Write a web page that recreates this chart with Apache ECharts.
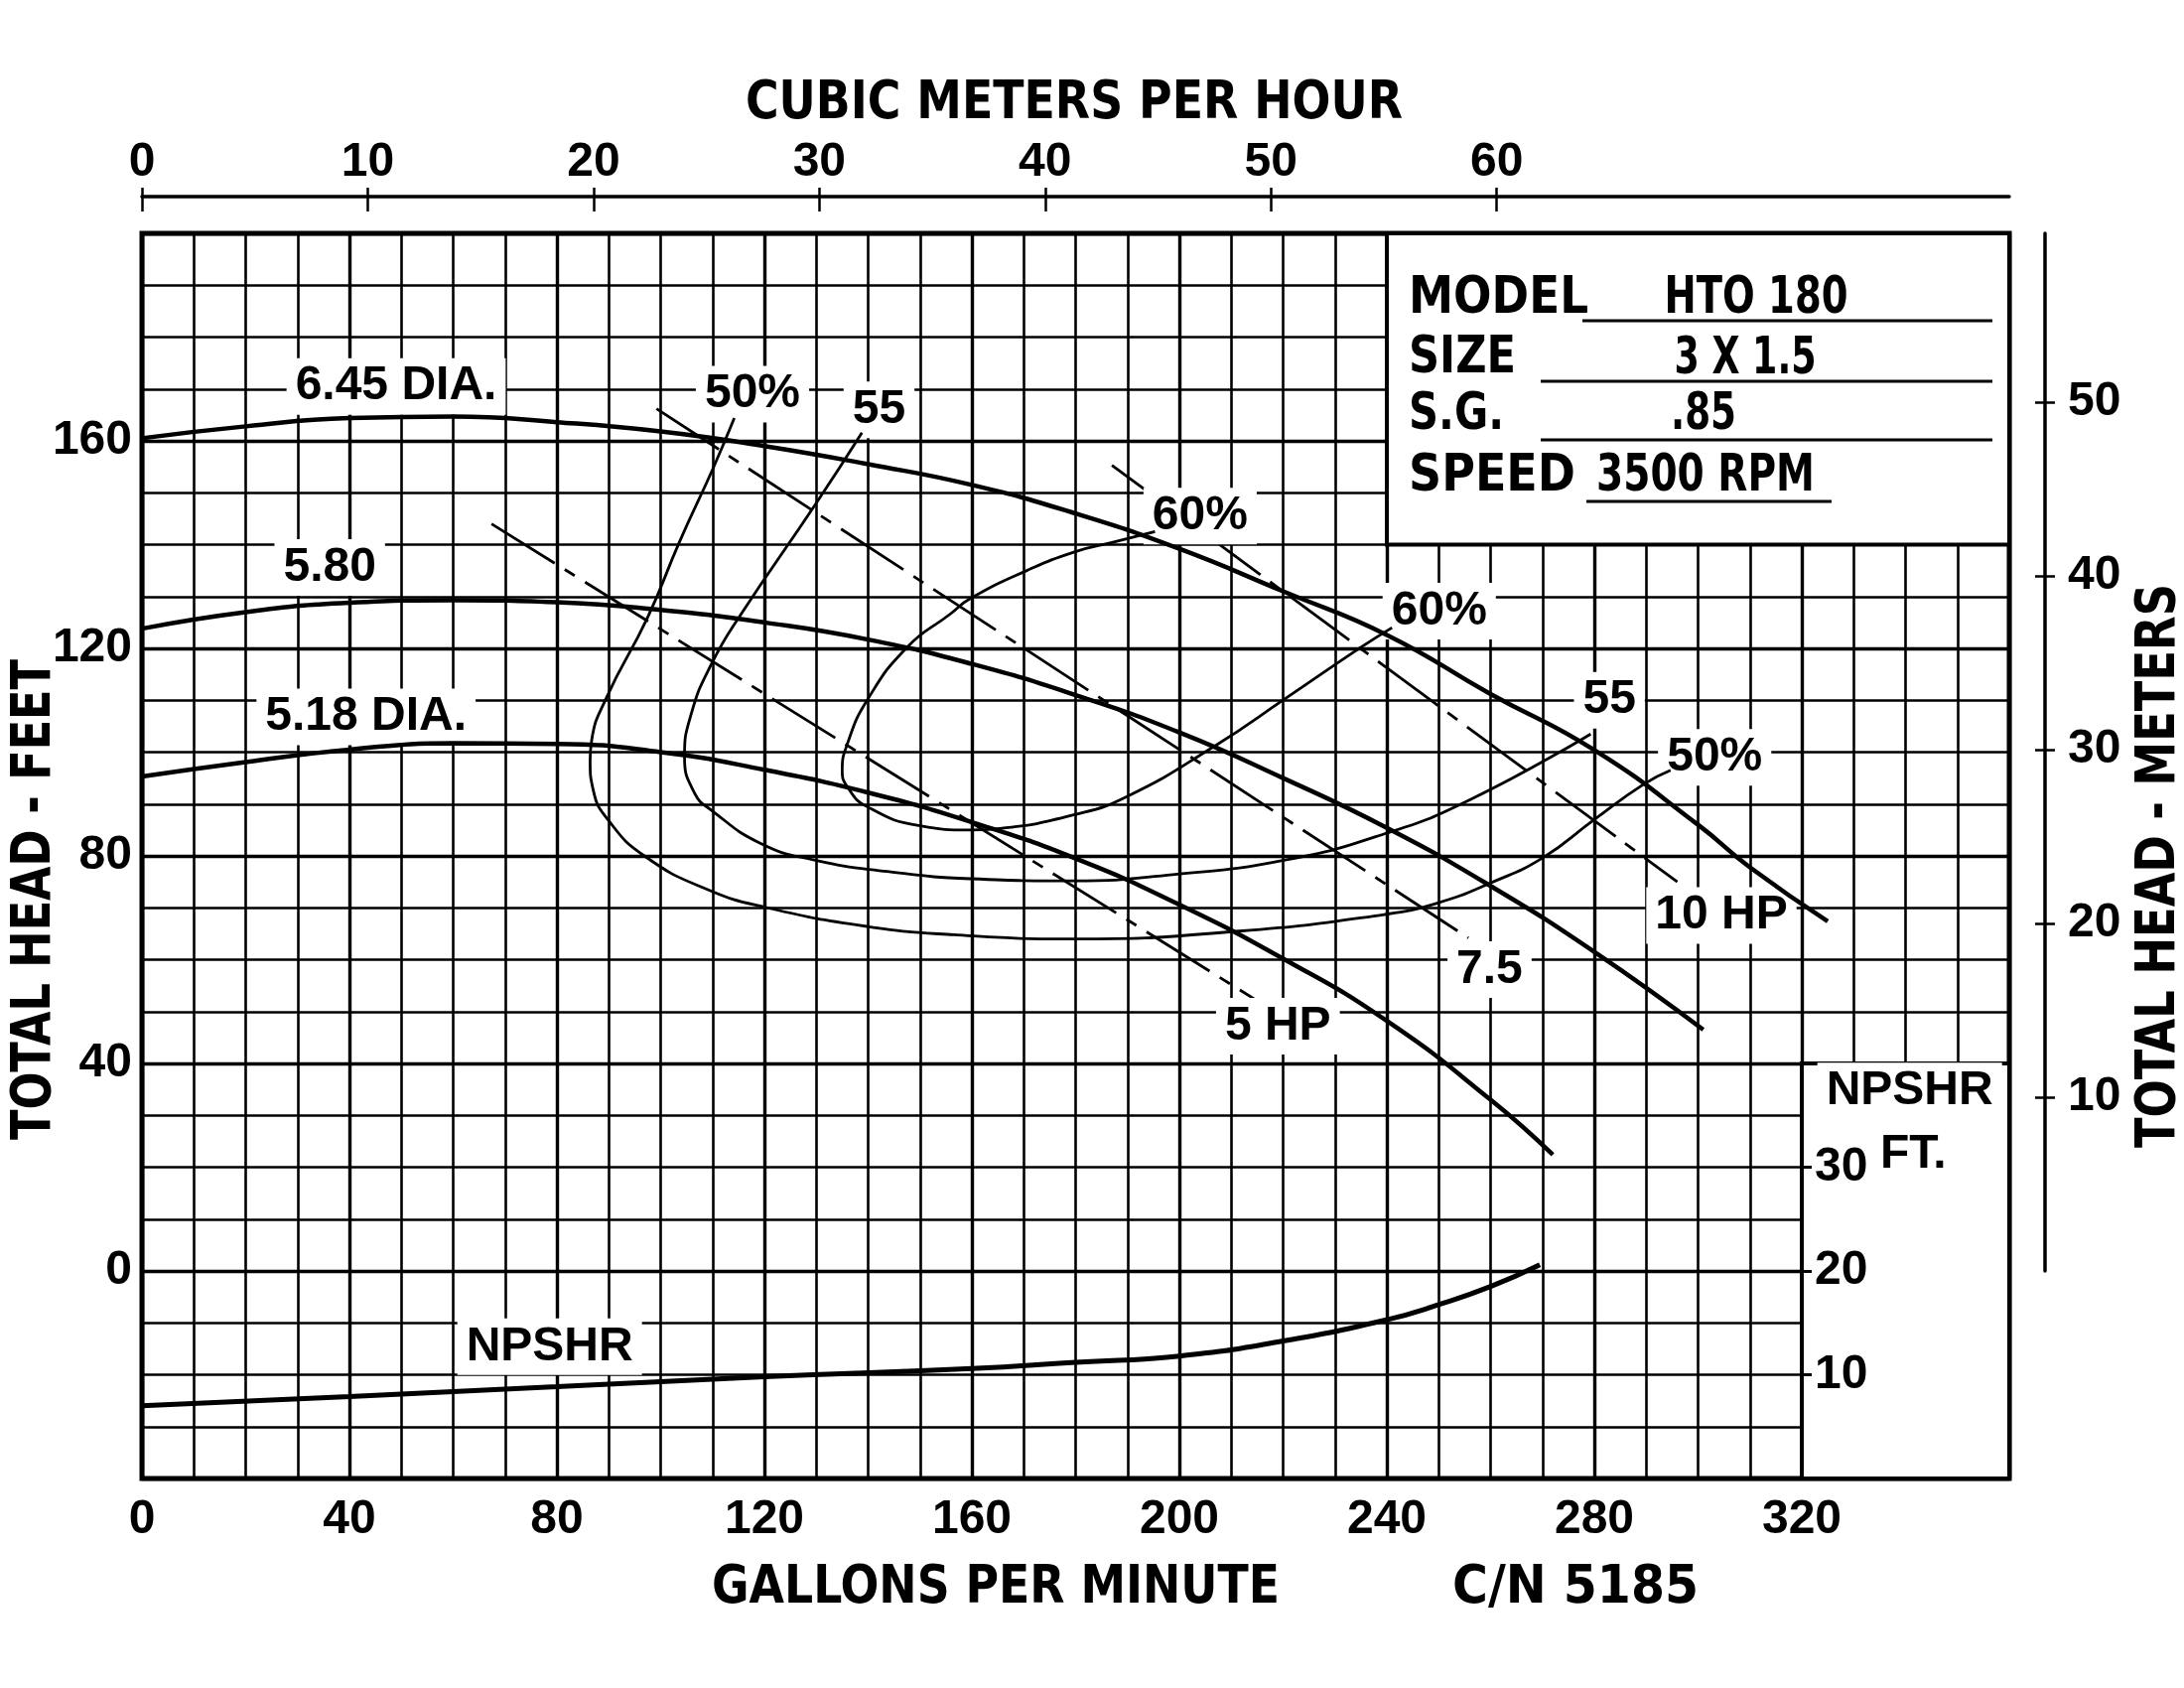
<!DOCTYPE html>
<html><head><meta charset="utf-8">
<script src="https://cdn.jsdelivr.net/npm/echarts@6/dist/echarts.min.js"></script>
<style>html,body{margin:0;padding:0;background:#fff}#c{width:2200px;height:1700px}</style>
</head><body><div id="c"></div>
<script>
// ---------- DATA ----------
const gpmTicks = [0, 40, 80, 120, 160, 200, 240, 280, 320];
const headTicks = [0, 40, 80, 120, 160];
const m3hTicks = [0, 10, 20, 30, 40, 50, 60];
const meterTicks = [10, 20, 30, 40, 50];
const npshrTicks = [10, 20, 30];

// head curves [gpm, ft]
const dia645 = [[0,160.5],[20,162.8],[40,164.4],[60,164.7],[80,163.6],[100,161.8],[120,159],[140,155.5],[160,151.5],[180,146],[200,139.2],[220,131],[240,122.6],[260,111.2],[280,100.4],[300,86],[310,77.8],[325,67.4]];
const dia580 = [[0,123.8],[20,127],[40,128.8],[60,129.3],[80,128.9],[100,127.4],[120,125],[140,121.7],[160,117],[180,111],[200,103.8],[220,95],[240,85.4],[260,74.2],[280,61.5],[301,46.5]];
const dia518 = [[0,95.3],[20,98.1],[40,100.5],[60,101.7],[80,101.6],[100,100],[120,96.6],[140,92.2],[160,86.5],[180,79.5],[200,70.6],[220,60.2],[240,48.2],[260,33],[272,22.4]];

// efficiency curves [gpm, ft]
const eff50 = [[114.2,164.4],[110.1,154.7],[103.7,140.7],[97.5,126],[89.6,110.6],[86.7,102.3],[86.4,98.4],[87,92.7],[89.9,86.9],[97,79.9],[109.1,73.5],[120.6,70],[139.8,66.4],[156.5,64.8],[179.5,64],[211.5,65.5],[239.5,68.7],[249.7,70.9],[260,74.8],[270,79.6],[280,87],[289.5,93.8],[294.7,96.5]];
const eff55 = [[138.8,161.6],[129.8,147.7],[115.5,126.6],[109.8,117],[105.9,107.4],[104.6,99.1],[106.6,92],[109.8,88.8],[119.3,82.4],[129.6,79.2],[143.7,77],[159.7,75.6],[179.6,75.2],[198.7,76.4],[220.4,79.2],[240,84.4],[256,90.8],[279.3,103.5]];
const eff60 = [[195.3,142.5],[187,140.4],[179.8,138.6],[170.6,135],[159.7,129.6],[155.8,126.6],[147.5,120.2],[139.8,110],[136,101.6],[135,96.5],[136,93.3],[139.8,89.5],[150,85.8],[159.7,85],[165.4,85.3],[179.6,87.9],[189.8,91.4],[207,101.3],[220.4,110.3],[235,120.2],[241,124]];

// horsepower lines [gpm, ft]
const hp5 = [[67.4,144],[215.3,51.9]];
const hp75 = [[99.2,166.2],[255.7,64.2]];
const hp10 = [[187,155.3],[296,75]];

// NPSHR [gpm, ft NPSHR]
const npshr = [[0,7],[40,7.9],[80,8.85],[120,9.8],[160,10.6],[180,11.2],[200,11.8],[220,13.25],[240,15.3],[250,16.75],[260,18.5],[269.5,20.6]];

// curve labels [text, gpm, ft]
const curveLabels = [
  ['6.45 DIA.', 49, 170.5],
  ['5.80', 36.2, 135.6],
  ['5.18 DIA.', 43.2, 106.8],
  ['50%', 117.7, 169],
  ['55', 142.1, 166],
  ['60%', 204, 145.5],
  ['60%', 250.1, 127.2],
  ['55', 282.9, 110],
  ['50%', 303.2, 99],
  ['10 HP', 304.5, 68.5],
  ['7.5', 259.8, 58.1],
  ['5 HP', 219, 47.2],
  ['NPSHR', 78.6, -14.6],
  ['NPSHR', 340.8, 34.7],
  ['FT.', 341.5, 22.5]
];

const infoKeys = ['MODEL', 'SIZE', 'S.G.', 'SPEED'];
const infoValues = ['HTO 180', '3 X 1.5', '.85', '3500 RPM'];

// ---------- LAYOUT / STYLE ----------
const G = {left: 143, top: 235, width: 1881, height: 1254};
const X_MIN = 0, X_MAX = 360, Y_MIN = -40, Y_MAX = 200;
const GPM_PER_M3H = 4.353, FT_PER_M = 3.35;
const NUMFONT = '"Liberation Sans", Arial, sans-serif';
const TITLEFONT = '"DejaVu Sans Condensed","DejaVu Sans",sans-serif';
const FS = 48;
const numLabel = {color: '#000', fontFamily: NUMFONT, fontWeight: 'bold', fontSize: FS};
const hidden = {axisLine: {show: false, onZero: false}, axisTick: {show: false}, axisLabel: {show: false}};

const mctx = document.createElement('canvas').getContext('2d');
function fit(text, size, target) {
  mctx.font = 'bold ' + size + 'px ' + TITLEFONT;
  return target / mctx.measureText(text).width;
}
function titleText(text, x, y, size, target, rot, align) {
  const s = fit(text, size, target);
  return {type: 'text', x, y, rotation: rot || 0, scaleX: s, z: 100,
    style: {text, fontFamily: TITLEFONT, fontWeight: 'bold', fontSize: size, fill: '#000',
      align: align || 'center', verticalAlign: 'middle'}};
}

const chart = echarts.init(document.getElementById('c'), null, {renderer: 'canvas', width: 2200, height: 1700});

const lineSeries = (name, data, width, type, yIdx, z) => ({
  name, type: 'line', data, xAxisIndex: 0, yAxisIndex: yIdx || 0,
  showSymbol: false, symbol: 'none', smooth: 0.5, z: z || 5, silent: true,
  lineStyle: {color: '#000', width, type: type || 'solid', cap: 'butt'}
});
const dash = [75, 12, 12, 12];

const option = {
  animation: false,
  backgroundColor: '#fff',
  grid: [
    {left: G.left, top: G.top, width: G.width, height: G.height, show: true, borderColor: '#000', borderWidth: 5, backgroundColor: 'transparent'},
    {left: G.left, top: G.top, width: G.width, height: G.height * (Y_MAX - 0) / (Y_MAX - Y_MIN)}
  ],
  xAxis: [
    {gridIndex: 0, type: 'value', position: 'bottom', min: X_MIN, max: X_MAX, interval: 10,
      axisLine: {show: false, onZero: false}, axisTick: {show: false},
      axisLabel: Object.assign({margin: 18, formatter: v => gpmTicks.includes(v) ? String(v) : ''}, numLabel),
      splitLine: {show: true, lineStyle: {color: '#000', width: 2.6}}},
    Object.assign({gridIndex: 0, type: 'value', position: 'bottom', min: X_MIN, max: X_MAX, interval: 40,
      splitLine: {show: true, lineStyle: {color: '#000', width: 3.4}}}, hidden),
    {gridIndex: 0, type: 'value', position: 'top', offset: 37, min: 0, max: X_MAX / GPM_PER_M3H,
      axisLine: {show: true, onZero: false, lineStyle: {color: '#000', width: 3.5}},
      axisTick: {show: true, inside: false, length: 9, customValues: m3hTicks, lineStyle: {color: '#000', width: 2.5}},
      axisLabel: Object.assign({margin: 10, customValues: m3hTicks}, numLabel),
      splitLine: {show: false}},
    {gridIndex: 0, type: 'value', position: 'top', offset: 37, min: 0, max: X_MAX / GPM_PER_M3H,
      axisLine: {show: false, onZero: false},
      axisTick: {show: true, inside: true, length: 15, customValues: m3hTicks, lineStyle: {color: '#000', width: 2.5}},
      axisLabel: {show: false}, splitLine: {show: false}},
    Object.assign({gridIndex: 1, type: 'value', position: 'bottom', min: X_MIN, max: X_MAX, splitLine: {show: false}}, hidden)
  ],
  yAxis: [
    {gridIndex: 0, type: 'value', position: 'left', min: Y_MIN, max: Y_MAX, interval: 10,
      axisLine: {show: false, onZero: false}, axisTick: {show: false},
      axisLabel: Object.assign({margin: 10, formatter: v => headTicks.includes(v) ? String(v) : ''}, numLabel),
      splitLine: {show: true, lineStyle: {color: '#000', width: 2.6}}},
    Object.assign({gridIndex: 0, type: 'value', position: 'left', min: Y_MIN, max: Y_MAX, interval: 40,
      splitLine: {show: true, lineStyle: {color: '#000', width: 3.4}}}, hidden),
    {gridIndex: 0, type: 'value', position: 'right', z: 10, offset: -(X_MAX - 320) / (X_MAX - X_MIN) * G.width,
      min: (Y_MIN + 40) / 2, max: (Y_MAX + 40) / 2,
      axisLine: {show: false, onZero: false},
      axisTick: {show: true, inside: false, length: 10, customValues: npshrTicks, lineStyle: {color: '#000', width: 3}},
      axisLabel: Object.assign({margin: 13, customValues: npshrTicks}, numLabel),
      splitLine: {show: false}},
    {gridIndex: 1, type: 'value', position: 'right', offset: 36, min: 0, max: Y_MAX / FT_PER_M,
      axisLine: {show: true, onZero: false, lineStyle: {color: '#000', width: 3.5}},
      axisTick: {show: true, inside: false, length: 10, customValues: meterTicks, lineStyle: {color: '#000', width: 2.5}},
      axisLabel: Object.assign({margin: 23, customValues: meterTicks}, numLabel),
      splitLine: {show: false}},
    {gridIndex: 1, type: 'value', position: 'right', offset: 36, min: 0, max: Y_MAX / FT_PER_M,
      axisLine: {show: false, onZero: false},
      axisTick: {show: true, inside: true, length: 10, customValues: meterTicks, lineStyle: {color: '#000', width: 2.5}},
      axisLabel: {show: false}, splitLine: {show: false}}
  ],
  series: [
    {name: 'areas', type: 'line', data: [], xAxisIndex: 0, yAxisIndex: 0, z: 1, silent: true,
      markArea: {silent: true, itemStyle: {color: '#fff', borderColor: '#000', borderWidth: 4, opacity: 1},
        data: [
          [{coord: [240, 140]}, {coord: [360, 200]}],
          [{coord: [320, -40]}, {coord: [360, 40]}]
        ]}},
    lineSeries('6.45 DIA.', dia645, 4.5),
    lineSeries('5.80', dia580, 4.5),
    lineSeries('5.18 DIA.', dia518, 4.5),
    lineSeries('50%', eff50, 2.8),
    lineSeries('55%', eff55, 2.8),
    lineSeries('60%', eff60, 2.8),
    lineSeries('5 HP', hp5, 2.8, dash, 0, 3),
    lineSeries('7.5 HP', hp75, 2.8, dash, 0, 3),
    lineSeries('10 HP', hp10, 2.8, dash, 0, 3),
    lineSeries('NPSHR', npshr, 5, 'solid', 2),
    {name: 'labels', type: 'scatter', xAxisIndex: 0, yAxisIndex: 0, z: 4, silent: true,
      symbolSize: 0, itemStyle: {color: '#fff', opacity: 1},
      data: curveLabels.map(([t, x, y]) => ({name: t, value: [x, y]})),
      label: {show: true, position: 'inside', formatter: '{b}', color: '#000', opacity: 1,
        textBorderWidth: 0, fontFamily: NUMFONT, fontWeight: 'bold', fontSize: FS,
        backgroundColor: '#fff', padding: [6, 9, 3, 9]}}
  ],
  graphic: [
    titleText('CUBIC METERS PER HOUR', 1082, 105, 54, 662),
    titleText('GALLONS PER MINUTE', 1003, 1600, 54, 572),
    titleText('C/N 5185', 1587, 1600, 54, 248),
    titleText('TOTAL HEAD - FEET', 35, 906, 56, 484, Math.PI / 2),
    titleText('TOTAL HEAD - METERS', 2175, 872, 56, 568, Math.PI / 2),
    // info box
    ...infoKeys.map((k, i) => titleText(k, 1419, [301, 361, 418, 480][i], 52, [181, 108, 96, 168][i], 0, 'left')),
    ...infoValues.map((v, i) => titleText(v, [1769, 1758, 1716, 1718][i], [301, 362, 418, 480][i], 52, [185, 143, 66, 220][i])),
    ...[[1594, 323, 2007], [1552, 384, 2007], [1552, 443, 2007], [1598, 505, 1845]].map(([x1, y, x2]) => ({
      type: 'line', z: 100, shape: {x1, y1: y, x2, y2: y}, style: {stroke: '#000', lineWidth: 3}}))
  ]
};
chart.setOption(option);
</script></body></html>
